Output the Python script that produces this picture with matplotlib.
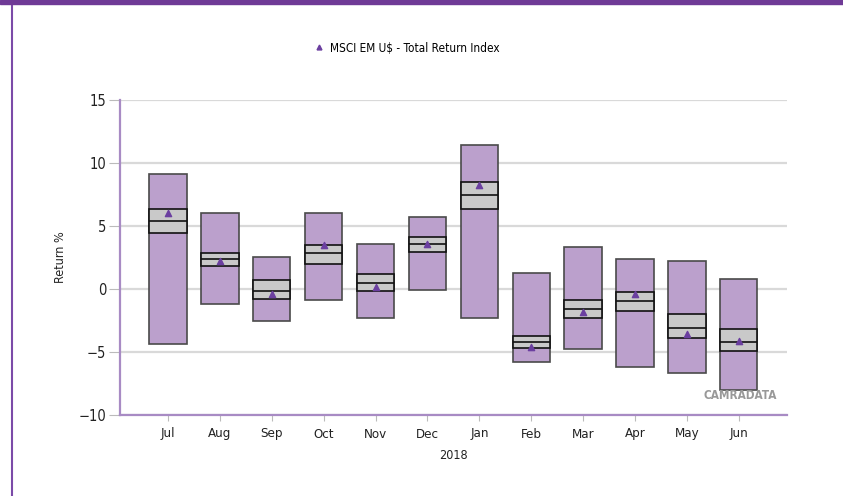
import numpy as np
import matplotlib
matplotlib.use('Agg')
from matplotlib import pyplot as plt
from matplotlib.lines import Line2D

plt.rcParams['font.family'] = ['DejaVu Sans']
plt.rcParams['font.stretch'] = 'condensed'

# monthly return ranges (%)
months = ['Jul', 'Aug', 'Sep', 'Oct', 'Nov', 'Dec', 'Jan', 'Feb', 'Mar', 'Apr', 'May', 'Jun']
high = [9.13, 6.06, 2.54, 6.06, 3.57, 5.71, 11.40, 1.30, 3.31, 2.36, 2.25, 0.82]
upper_q = [6.38, 2.86, 0.74, 3.52, 1.19, 4.13, 8.49, -3.71, -0.87, -0.26, -2.01, -3.17]
median = [5.40, 2.41, -0.14, 2.86, 0.51, 3.55, 7.46, -4.18, -1.59, -0.95, -3.12, -4.18]
lower_q = [4.48, 1.86, -0.76, 2.02, -0.16, 2.97, 6.35, -4.71, -2.28, -1.75, -3.86, -4.89]
low = [-4.34, -1.21, -2.56, -0.90, -2.27, -0.05, -2.27, -5.82, -4.79, -6.16, -6.69, -8.04]
index_ret = [6.03, 2.20, -0.37, 3.50, 0.16, 3.60, 8.29, -4.58, -1.80, -0.40, -3.57, -4.10]

x = np.arange(len(months))
high = np.array(high); low = np.array(low)
upper_q = np.array(upper_q); lower_q = np.array(lower_q)

fig = plt.figure(figsize=(8.43, 4.96), dpi=100)
ax = fig.add_axes([120/843, 1-415/496, 667/843, 315/496])

w = 0.72
ax.bar(x, high-low, bottom=low, width=w, color='#BBA0CC', edgecolor='#4a4a4a', linewidth=1.2, zorder=3)
ax.bar(x, upper_q-lower_q, bottom=lower_q, width=w, color='#C9C9C9', edgecolor='#111111', linewidth=1.2, zorder=4)
ax.hlines(median, x-w/2, x+w/2, color='#111111', linewidth=1.2, zorder=5)
ax.scatter(x, index_ret, marker='^', s=20, color='#6B3FA0', zorder=6)

ax.set_xlim(-0.925, 11.93)
ax.set_ylim(-10, 15)
ax.set_yticks([-10, -5, 0, 5, 10, 15])
ax.set_xticks(x)
ax.set_xticklabels(months)
ax.grid(axis='y', color='#D9D9D9', linewidth=1.6, zorder=0)
ax.set_axisbelow(True)

for s in ['top', 'right']:
    ax.spines[s].set_visible(False)
for s in ['left', 'bottom']:
    ax.spines[s].set_color('#A88BC4')
    ax.spines[s].set_linewidth(1.6)
ax.tick_params(axis='y', length=8, color='#BBBBBB', labelsize=10.5, labelcolor='#222222', pad=2)
ax.tick_params(axis='x', length=4, color='#BBBBBB', labelsize=9.5, labelcolor='#222222', pad=5)

ax.set_ylabel('Return %', fontsize=9, color='#222222', labelpad=8)
ax.set_xlabel('2018', fontsize=9, color='#222222', labelpad=6)

ax.text(0.985, 0.063, 'CAMRADATA', transform=ax.transAxes, ha='right', va='center',
        fontsize=8.5, fontweight='bold', color='#999999')

h = Line2D([], [], marker='^', linestyle='none', color='#6B3FA0', markersize=3.5)
fig.legend([h], ['MSCI EM U$ - Total Return Index'], loc='center', bbox_to_anchor=(0.481, 1-48/496),
           frameon=False, fontsize=8.5, handletextpad=0.3, handlelength=1.2)

# border
fig.patches.append(plt.Rectangle((0, 1-4/496), 1, 4/496, transform=fig.transFigure, color='#6F3A96', zorder=10))
fig.lines.append(Line2D([12/843, 12/843], [0, 1], transform=fig.transFigure, color='#7B4BA8', linewidth=1.5))

plt.savefig('out.png', dpi=100)
